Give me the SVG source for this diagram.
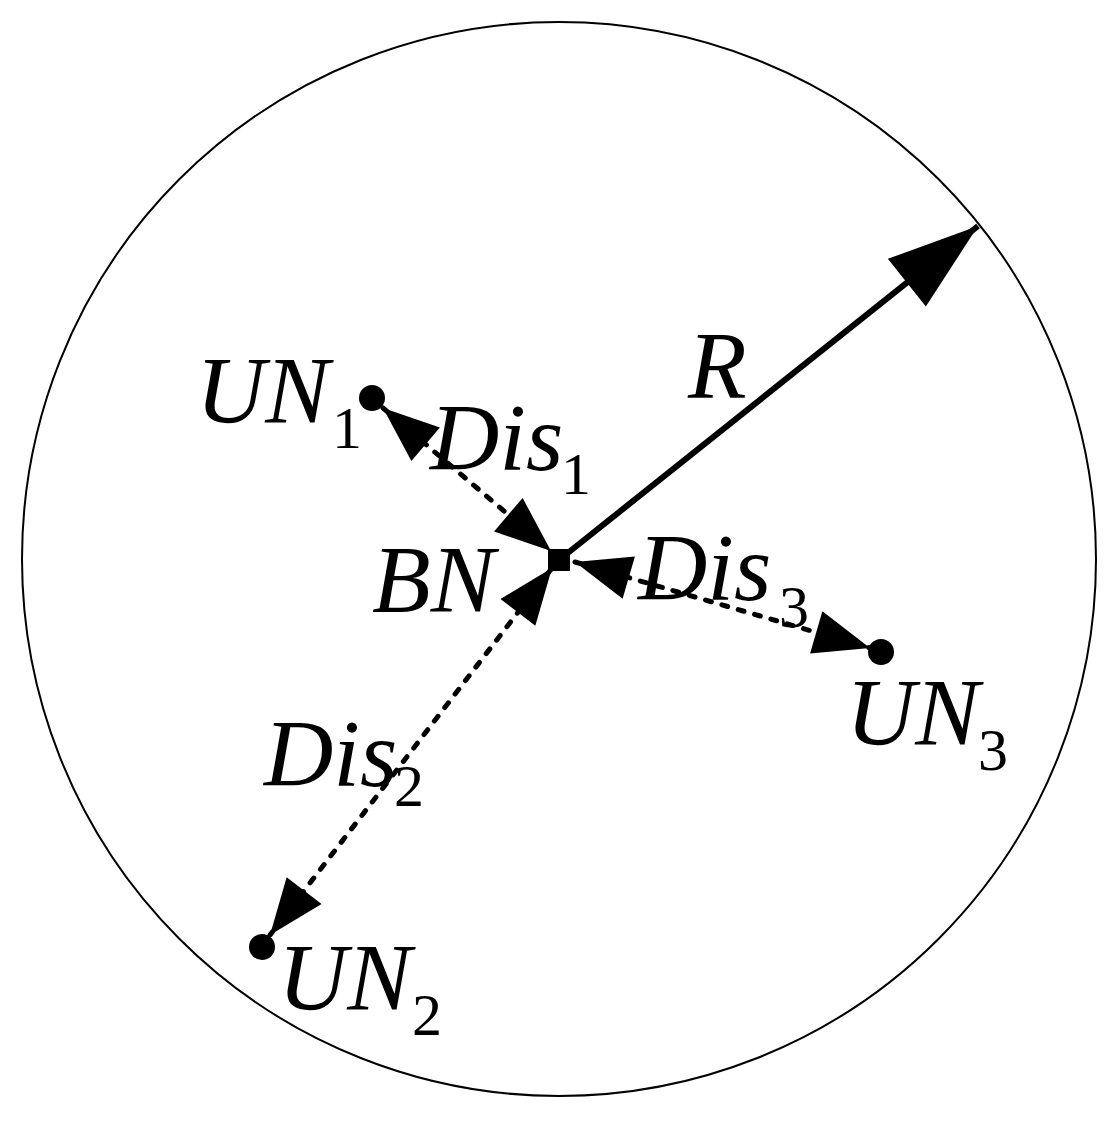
<svg xmlns="http://www.w3.org/2000/svg" width="1115" height="1122" viewBox="0 0 1115 1122">
<style>
.lbl{font-family:"Liberation Serif","Times New Roman",serif;font-style:italic;font-size:96px;fill:#000}
.sub{font-family:"Liberation Serif","Times New Roman",serif;font-size:60px;fill:#000}
.dash{fill:none;stroke:#000;stroke-width:5;stroke-dasharray:6 11;stroke-linecap:round}
.solid{fill:none;stroke:#000;stroke-width:6}
</style>
<defs>
<marker id="ah" markerUnits="userSpaceOnUse" markerWidth="60" markerHeight="46" refX="56" refY="22" orient="auto-start-reverse" overflow="visible">
<path d="M0,0 L56,22 L0,44 Z" fill="#000"/>
</marker>
<marker id="ahR" markerUnits="userSpaceOnUse" markerWidth="92" markerHeight="62" refX="91" refY="30.5" orient="auto" overflow="visible">
<path d="M0,0 L91,30.5 L0,61 Z" fill="#000"/>
</marker>
</defs>
<rect width="1115" height="1122" fill="#fff"/>
<g id="boundary">
<circle cx="559" cy="559" r="537" fill="none" stroke="#000" stroke-width="2"/>
</g>
<g id="connectors">
<line id="R" class="solid" x1="559" y1="560" x2="978" y2="226" marker-end="url(#ahR)"/>
<line id="Dis1" class="dash" x1="383" y1="408" x2="551" y2="551" marker-start="url(#ah)" marker-end="url(#ah)"/>
<line id="Dis2" class="dash" x1="552" y1="568" x2="270" y2="935" marker-start="url(#ah)" marker-end="url(#ah)"/>
<line id="Dis3" class="dash" x1="575" y1="562" x2="870" y2="648" marker-start="url(#ah)" marker-end="url(#ah)"/>
</g>
<g id="BN">
<rect x="548" y="549" width="22" height="22" fill="#000"/>
<text class="lbl" x="372" y="612">BN</text>
</g>
<g id="UN1">
<circle cx="372" cy="398" r="13" fill="#000"/>
<text class="lbl" x="196" y="423">UN</text>
<text class="sub" x="332" y="448">1</text>
</g>
<g id="UN2">
<circle cx="262" cy="947" r="13" fill="#000"/>
<text class="lbl" x="278" y="1010">UN</text>
<text class="sub" x="412" y="1035">2</text>
</g>
<g id="UN3">
<circle cx="881" cy="652" r="13" fill="#000"/>
<text class="lbl" x="846" y="745">UN</text>
<text class="sub" x="978" y="770">3</text>
</g>
<g id="labels">
<text class="lbl" x="688" y="398">R</text>
<text class="lbl" x="430" y="470">Dis</text>
<text class="sub" x="561" y="494">1</text>
<text class="lbl" x="638" y="600">Dis</text>
<text class="sub" x="779" y="627">3</text>
<text class="lbl" x="264" y="786">Dis</text>
<text class="sub" x="394" y="806">2</text>
</g>
</svg>
